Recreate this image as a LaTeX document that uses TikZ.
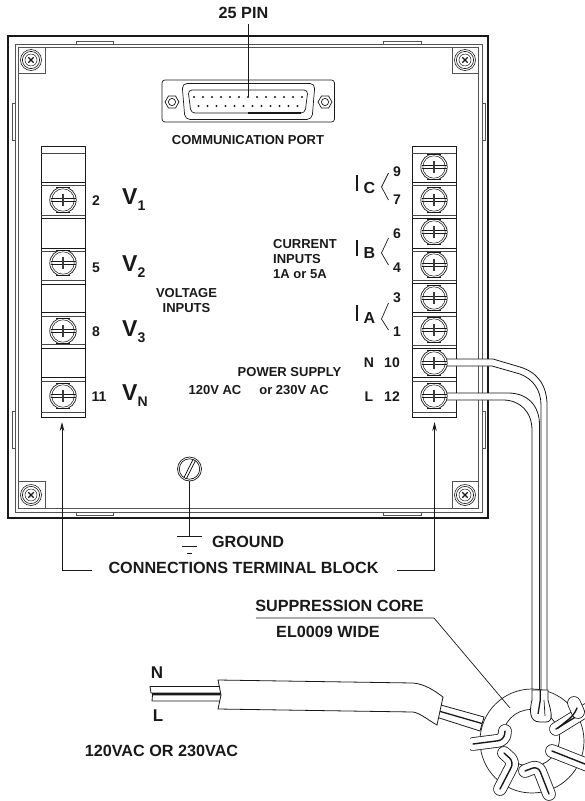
\documentclass[tikz,border=0pt]{standalone}
\usepackage{fontspec}
\setmainfont{Liberation Sans}
\usetikzlibrary{shapes.geometric,arrows.meta}
\definecolor{ink}{gray}{0.1}
\tikzset{
  lbl/.style={inner sep=0pt,text=ink,font=\bfseries\fontsize{13}{14.7}\selectfont,align=center},
  lblbig/.style={inner sep=0pt,text=ink,font=\bfseries\fontsize{16.2}{18}\selectfont,align=center},
  num/.style={inner sep=0pt,text=ink,font=\bfseries\fontsize{14}{16}\selectfont},
  big/.style={inner sep=0pt,text=ink,font=\bfseries\fontsize{23}{25}\selectfont},
  cur/.style={inner sep=0pt,text=ink,font=\bfseries\fontsize{16}{18}\selectfont},
  thin line/.style={draw=ink,line width=0.7pt},
  frame line/.style={draw=ink!75,line width=0.8pt},
  wire/.style={draw=ink,line width=0.8pt,fill=white},
  leader/.style={draw=ink,line width=0.7pt},
  arrowed/.style={draw=ink,line width=0.7pt,-{Stealth[length=9pt,width=4.5pt]}},
  band outer/.style={draw=ink,line width=13.6pt,line cap=round,rounded corners=6pt},
  band inner/.style={draw=white,line width=12pt,line cap=round,rounded corners=6pt},
  band mid/.style={draw=ink,line width=1.4pt,line cap=round,rounded corners=6pt},
  hexnut/.style={draw=ink,line width=0.7pt,regular polygon,regular polygon sides=6,minimum size=14pt,inner sep=0pt},
}
\newcommand{\tscrew}[2]{%
  \begin{scope}
    \clip (#1-14,#2-12.6) rectangle (#1+14,#2+12.6);
    \draw[draw=ink,line width=0.7pt,fill=white] (#1,#2) circle (13.2pt);
    \draw[draw=ink,line width=0.5pt] (#1,#2) circle (11.2pt);
  \end{scope}
  \draw[draw=ink,line width=0.7pt] (#1-7,#2-12.6)--(#1+7,#2-12.6) (#1-7,#2+12.6)--(#1+7,#2+12.6);
  \draw[draw=ink,line width=0.9pt] (#1-12.5,#2-1.2)--(#1+12.5,#2-1.2) (#1-12.5,#2+1.2)--(#1+12.5,#2+1.2);
  \draw[draw=ink!85,line width=1.4pt] (#1,#2-6)--(#1,#2+6);
}
\newcommand{\cscrew}[2]{%
  \draw[draw=ink,line width=0.6pt] (#1,#2) circle (10.5pt) (#1,#2) circle (8.6pt);
  \draw[draw=ink,line width=0.5pt] (#1,#2) circle (6pt);
  \draw[draw=ink,line width=1.3pt] (#1-2.7,#2-2.7)--(#1+2.7,#2+2.7) (#1-2.7,#2+2.7)--(#1+2.7,#2-2.7);
}
\newcommand{\sepline}[3]{%
  \draw[draw=ink,line width=0.9pt] (#1,#2)--(#1+44,#2);
  \draw[draw=ink!80,line width=0.6pt] (#1,#3)--(#1+44,#3);
}
\newcommand{\wrapband}[1]{%
  \draw[band outer] #1;
  \draw[band inner] #1;
  \draw[band mid] #1;
}
\begin{document}
\begin{tikzpicture}[x=1pt,y=-1pt]
\useasboundingbox (0,0) rectangle (585,801);
% frame
\draw[draw=ink,line width=2.6pt] (8,36) rectangle (488,518);
\draw[frame line] (15,44) rectangle (482,512);
\draw[frame line] (18,47) rectangle (478,508);
\foreach \a/\b in {76/113,383/421}{
  \draw[frame line] (\a,44)--(\a,41)--(\b,41)--(\b,44);
  \draw[frame line] (\a,512)--(\a,515)--(\b,515)--(\b,512);
}
\foreach \a/\b in {103/140,411/448}{
  \draw[frame line] (15,\a)--(12,\a)--(12,\b)--(15,\b);
  \draw[frame line] (482,\a)--(485,\a)--(485,\b)--(482,\b);
}
% corners
\draw[frame line] (18,73)--(45,73)--(45,47) (452,47)--(452,73)--(478,73)
  (18,481)--(45,481)--(45,508) (452,508)--(452,481)--(478,481);
\cscrew{31}{60}\cscrew{465}{60}\cscrew{31}{495}\cscrew{465}{495}
% port
\draw[thin line,rounded corners=3pt] (162,80) rectangle (334.5,122);
\draw[thin line,rounded corners=5pt] (182,83.5)--(315,83.5)--(312,119.5)--(185,119.5)--cycle;
\draw[thin line,rounded corners=4pt] (188,90)--(308,90)--(305,113)--(191,113)--cycle;
\draw[draw=ink,line width=1.2pt] (248,113)--(301,113);
\node[hexnut] (nutl) at (172,102) {};
\node[hexnut] (nutr) at (325,102) {};
\draw[thin line] (nutl.center) circle (3.6pt) (nutr.center) circle (3.6pt);
\foreach \k in {0,...,12}{\fill[ink] (194+9*\k,97) circle (1.1pt);}
\foreach \k in {0,...,11}{\fill[ink] (198.5+9*\k,106) circle (1.1pt);}
\node[lblbig] (pin) at (243.5,13) {25 PIN};
\coordinate (pinend) at (248,97);
\draw[leader] (248,24)--(pinend);
\node[lbl] (comm) at (248,140) {COMMUNICATION PORT};
% left block
\node[draw=ink,line width=0.8pt,minimum width=44pt,minimum height=271pt,inner sep=0pt] (blockl) at (63,281.5) {};
\draw[draw=ink!80,line width=0.6pt] (41,153)--(85,153);
\sepline{41}{182}{185}\sepline{41}{218}{215}\sepline{41}{248}{251}\sepline{41}{284}{280}
\sepline{41}{312}{316}\sepline{41}{348}{344}\sepline{41}{377}{381}\sepline{41}{412}{412}
\foreach \y in {200,263,331,396}{\tscrew{63}{\y}}
% right block
\node[draw=ink,line width=0.8pt,minimum width=44pt,minimum height=271pt,inner sep=0pt] (blockr) at (434,281.5) {};
\draw[draw=ink!80,line width=0.6pt] (412,153)--(456,153);
\sepline{412}{182}{185}\sepline{412}{218}{215}\sepline{412}{248}{251}\sepline{412}{283}{280}
\sepline{412}{312}{316}\sepline{412}{348}{345}\sepline{412}{377}{381}\sepline{412}{412}{412}
\foreach \y in {167,200,232,265,298,330}{\tscrew{434}{\y}}
% mains wires
\draw[wire] (446,359)--(493,359)--(520,367) .. controls (537,372) and (547,385) .. (547,405)--(547,695)--(541,695)--(541,405) .. controls (541,390) and (533,379) .. (520,374)--(492,366)--(446,366)--cycle;
\draw[wire] (446,393)--(508,393) .. controls (527,393) and (539.5,405) .. (539.5,425)--(539.5,695)--(532,695)--(532,430) .. controls (532,412) and (520,400) .. (503,400)--(446,400)--cycle;
\tscrew{434}{363}\tscrew{434}{396}
% left labels
\node[num] (n2) at (96,201) {2};
\node[num] (n5) at (96,268) {5};
\node[num] (n8) at (96,332) {8};
\node[num] (n11) at (99,397) {11};
\node[big,anchor=west] (v1) at (122,200) {V\raisebox{-6pt}{\fontsize{14}{14}\selectfont 1}};
\node[big,anchor=west] (v2) at (122,267) {V\raisebox{-6pt}{\fontsize{14}{14}\selectfont 2}};
\node[big,anchor=west] (v3) at (122,332) {V\raisebox{-6pt}{\fontsize{14}{14}\selectfont 3}};
\node[big,anchor=west] (vn) at (122,396) {V\raisebox{-6pt}{\fontsize{14}{14}\selectfont N}};
\node[lbl] (volt) at (186.5,300.5) {VOLTAGE\\INPUTS};
\node[lbl,align=left,anchor=west] (curr) at (273,259) {CURRENT\\INPUTS\\1A or 5A};
\node[lbl] (pow) at (289.5,372) {POWER SUPPLY};
\node[lbl] (ac1) at (215,390) {120V AC};
\node[lbl] (ac2) at (294,390) {or 230V AC};
% current labels
\foreach \yb/\yl/\nt/\nb/\txt/\ya/\ym/\yc/\tn/\bn in {
  175/188/9/7/C/173/187/200/172/200,
  240/253/6/4/B/238/253/265/234/268,
  305/318/3/1/A/303/319/330/298/332}{
  \draw[draw=ink,line width=1.4pt] (357,\yb)--(357,\yb+16);
  \node[cur] at (369.5,\yl) {\txt};
  \draw[thin line] (388.5,\ya)--(381.5,\ym)--(388.5,\yc);
  \node[num] at (397,\tn) {\nt};
  \node[num] at (397,\bn) {\nb};
}
\node[num] (nn) at (369,363) {N};
\node[num] (n10) at (392,363) {10};
\node[num] (nl) at (369,397) {L};
\node[num] (n12) at (392,397) {12};
% ground
\draw[draw=ink,line width=0.7pt] (189.5,469) circle (12pt) (189.5,469) circle (10.2pt);
\draw[draw=ink,line width=0.7pt] (184,477.5)--(193,459.5) (186.5,478.5)--(195.5,460.5);
\coordinate (gndtop) at (189.5,481);
\coordinate (gndbar) at (189.5,536);
\draw[leader] (gndtop)--(gndbar);
\draw[leader] (177,536)--(202,536) (181.5,546)--(197,546) (187,553)--(192,553);
\node[lblbig] (gnd) at (248,542) {GROUND};
\node[lblbig] (ctb) at (243.5,568) {CONNECTIONS TERMINAL BLOCK};
\coordinate (elbowl) at (62,570);
\coordinate (elbowr) at (434.5,570);
\coordinate (tipl) at (62,422);
\coordinate (tipr) at (434.5,422);
\draw[arrowed] (92,570)--(elbowl)--(tipl);
\draw[arrowed] (397,570)--(elbowr)--(tipr);
% suppression label
\node[lblbig] (supp) at (339.5,606) {SUPPRESSION CORE};
\node[lblbig] (el) at (328,632) {EL0009 WIDE};
% cable
\draw[wire] (150,686.5)--(226,686.5)--(226,693)--(151,693)--cycle;
\draw[wire] (152.5,695)--(226,695)--(226,701)--(152,701)--cycle;
\draw[draw=ink,line width=1.3pt] (152,694)--(226,694);
\draw[wire] (430,702)--(484,717)--(480,731)--(430,715)--cycle;
\draw[draw=ink,line width=1.3pt] (430,708.5)--(482,723.5);
\draw[wire] (218,680) -- (221,695) -- (218,709) -- (413,712) .. controls (420,713) and (428,720) .. (437,725) -- (443,697) .. controls (435,691) and (425,684) .. (413,683) -- cycle;
\node[lblbig,font=\bfseries\fontsize{17}{19}\selectfont] (cn) at (157,673) {N};
\node[lblbig,font=\bfseries\fontsize{17}{19}\selectfont] (cl) at (158,716) {L};
\node[lblbig] (vac) at (161.5,751) {120VAC OR 230VAC};
% toroid
\begin{scope}
\clip (470,680) rectangle (585,801);
\draw[thin line,fill=white] (532,741) circle (52pt);
\draw[thin line,fill=white] (531,738) circle (28.5pt);
\end{scope}
\coordinate (corepoint) at (510,708);
\draw[leader] (256,618)--(434,618)--(corepoint);
% wraps
\begin{scope}
\clip (470,680) rectangle (585,801);
\wrapband{(473,744)--(504,740)--(505,731)}
\wrapband{(504,753)--(514,762)--(500,789)}
\wrapband{(525,771)--(538,766)--(549,794)}
\wrapband{(552,751)--(590,766)}
\wrapband{(556,729)--(590,708)}
\draw[band outer] (574,703)--(578,712);
\draw[band inner] (574,703)--(578,712);
\draw[band mid] (558,728)--(574,715)--(577,708);
\end{scope}
% top wrap
\draw[wire] (532,690) -- (532,700) .. controls (530,708) and (528,722) .. (540,722) -- (546,722) .. controls (555,722) and (550,708) .. (548,700) -- (548,690) -- cycle;
\draw[draw=ink,line width=1.3pt] (540.3,690)--(540.3,700)--(538,714);
\draw[draw=ink,line width=0.7pt] (544,700)--(545,716);
\end{tikzpicture}
\end{document}
